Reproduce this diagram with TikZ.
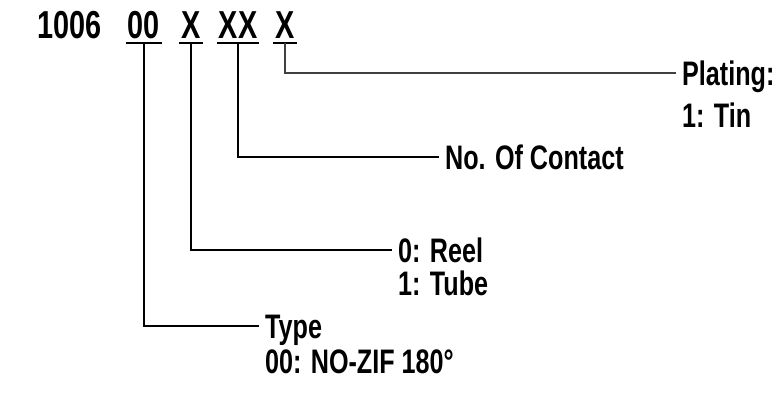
\documentclass[tikz,border=0pt]{standalone}
\usepackage{fontspec}
\newfontfamily\cadfont[FakeStretch=0.74]{Liberation Sans}
\usetikzlibrary{positioning}
\newcommand{\hdfont}{\cadfont\bfseries\fontsize{39}{44}\selectfont}
\newcommand{\lbfont}{\cadfont\bfseries\fontsize{34}{38}\selectfont}

\begin{document}
\begin{tikzpicture}[
  x=1pt, y=-1pt,
  head/.style={font=\hdfont, anchor=base, inner xsep=2pt, inner ysep=5pt,
    text depth=0pt},
  code/.style={head},
  uline/.style={line width=2.2pt},
  conn/.style={line width=2pt},
  connthin/.style={line width=1.3pt, black!75},
  lbl/.style={font=\lbfont, anchor=west, inner xsep=6pt, inner ysep=0pt,
    text height=24pt, text depth=0pt},
  lbltwo/.style={font=\lbfont, anchor=base west, inner xsep=6pt, inner ysep=0pt},
]
\useasboundingbox (0,0) rectangle (776,394);

% ============================================= part number and its fields
\node[head, anchor=base west, inner xsep=0pt] (pn) at (37,38) {1006};
\node[code] (c00) at (144,38) {00};
\node[code] (cpk) at (191,38) {X};
\node[code] (cct) at (238,38) {XX};
\node[code] (cpl) at (285,38) {X};
\foreach \n in {c00,cpk,cct,cpl} {\draw[uline] (\n.south west) -- (\n.south east);}

% ================================================================ labels
\node[lbl] (plating) at (676,73) {Plating:};
\node[lbltwo] (tin) at (676,127) {1: Tin};
\node[lbl] (contact) at (439,157) {No. Of Contact};
\node[lbl] (reel) at (392,250) {0: Reel};
\node[lbltwo] (tube) at (392,295) {1: Tube};
\node[lbl] (type) at (259,326) {Type};
\node[lbltwo] (zif) at (259,373) {00: NO-ZIF 180°};

% ============================================================ connectors
\draw[connthin] (cpl.south) |- (plating.west);
\draw[conn] (cct.south) |- (contact.west);
\draw[conn] (cpk.south) |- (reel.west);
\draw[conn] (c00.south) |- (type.west);
\end{tikzpicture}
\end{document}
